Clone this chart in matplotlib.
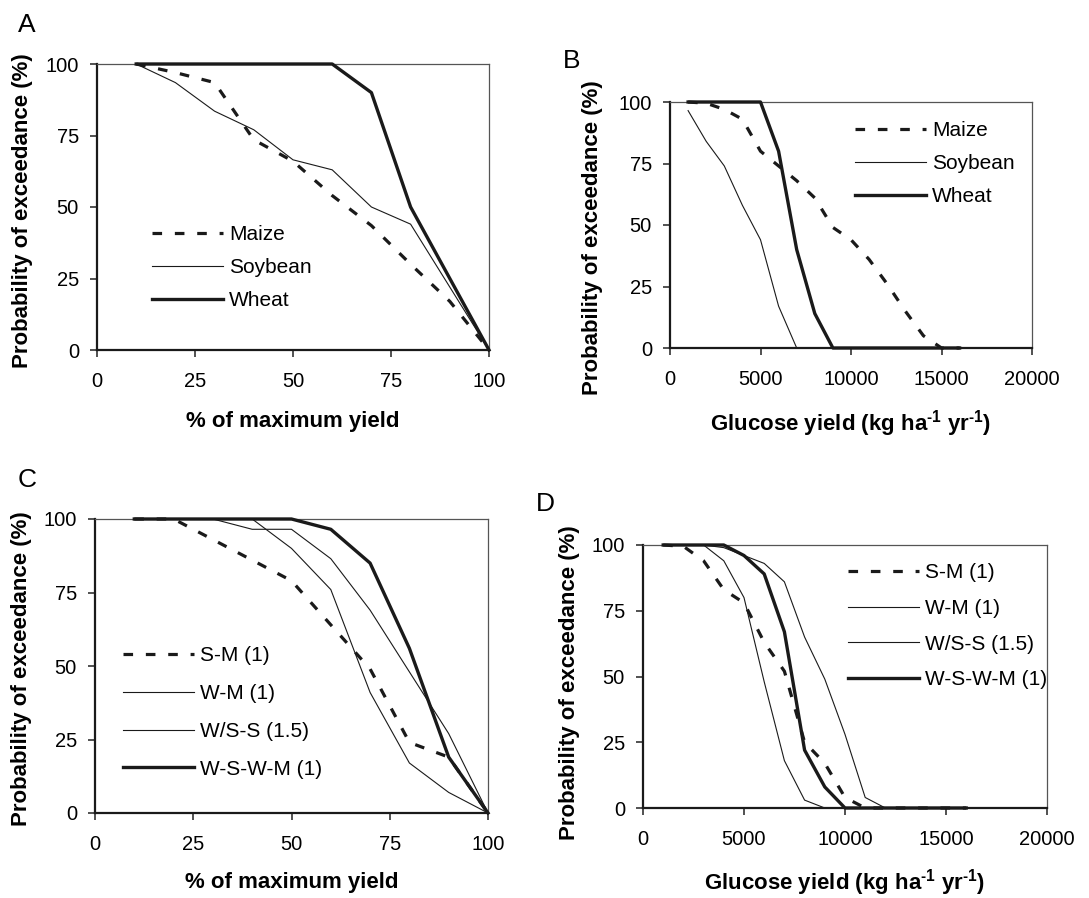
import matplotlib
matplotlib.use('Agg')
import matplotlib.pyplot as plt

plt.rcParams['font.family'] = ['Liberation Sans', 'DejaVu Sans']
plt.rcParams['mathtext.default'] = 'regular'
plt.rcParams['font.size'] = 14.5

# --- panel A: exceedance vs % of maximum yield, single crops
pct = [10, 20, 30, 40, 50, 60, 70, 80, 90, 100]
a_maize = [100, 97, 93.5, 73.5, 66, 54, 43.5, 30, 17, 0]
a_soybean = [100, 93.5, 83.5, 77, 66.5, 63, 50, 44, 22, 0]
a_wheat = [100, 100, 100, 100, 100, 100, 90, 50, 25, 0]

# --- panel B: exceedance vs glucose yield, single crops
glu = [1000, 2000, 3000, 4000, 5000, 6000, 7000, 8000,
       9000, 10000, 11000, 12000, 13000, 14000, 15000, 16000]
b_maize = [100, 99.5, 97, 93, 80, 74, 68, 61, 49, 44, 36, 26, 15, 5, 0, 0]
b_soybean = [96.5, 84, 74, 58, 44, 17, 0, 0, 0, 0, 0, 0, 0, 0, 0, 0]
b_wheat = [100, 100, 100, 100, 100, 80, 40, 14, 0, 0, 0, 0, 0, 0, 0, 0]

# --- panel C: exceedance vs % of maximum yield, rotations
c_sm = [100, 100, 93, 86, 79, 64, 49, 24, 19, 0]
c_wm = [100, 100, 100, 96.5, 96.5, 86.5, 69, 48, 27, 0]
c_wss = [100, 100, 100, 100, 90, 76, 41, 17, 7, 0]
c_wswm = [100, 100, 100, 100, 100, 96.5, 85, 56, 19, 0]

# --- panel D: exceedance vs glucose yield, rotations
d_sm = [100, 99.5, 94, 83, 78, 63, 52, 25, 17, 4, 0, 0, 0, 0, 0, 0]
d_wm = [100, 100, 100, 94, 80, 48, 18, 3, 0, 0, 0, 0, 0, 0, 0, 0]
d_wss = [100, 100, 100, 99, 96, 93, 86, 65, 49, 28, 4, 0, 0, 0, 0, 0]
d_wswm = [100, 100, 100, 100, 96, 89, 67, 22, 8, 0, 0, 0, 0, 0, 0, 0]

crop_names = ['Maize', 'Soybean', 'Wheat']
rot_names = ['S-M (1)', 'W-M (1)', 'W/S-S (1.5)', 'W-S-W-M (1)']

ylab = 'Probability of exceedance (%)'
xlab_pct = '% of maximum yield'
xlab_glu = 'Glucose yield (kg ha$^{\u20101}$ yr$^{\u20101}$)'

dashed = dict(color='#1a1a1a', lw=2.3, dashes=(3.0, 4.0))
thin = dict(color='#1a1a1a', lw=0.8)
thick = dict(color='#1a1a1a', lw=2.4)

W, H = 1089, 898
fig = plt.figure(figsize=(W / 100, H / 100), dpi=100)


def add_ax(left, top, right, bottom):
    return fig.add_axes([left / W, 1 - bottom / H, (right - left) / W, (bottom - top) / H])


def style(ax, xmax, xticks, xlabel, ylx, yly, xly):
    ax.set_xlim(0, xmax)
    ax.set_ylim(0, 100)
    ax.set_xticks(xticks)
    ax.set_yticks([0, 25, 50, 75, 100])
    for s in ['left', 'bottom']:
        ax.spines[s].set_linewidth(1.6)
        ax.spines[s].set_color('#1a1a1a')
    for s in ['top', 'right']:
        ax.spines[s].set_linewidth(0.9)
        ax.spines[s].set_color('#555555')
    ax.tick_params(direction='out', length=5, width=1.2, color='#333333',
                   labelsize=14.5, top=False, right=False)
    ax.tick_params(axis='x', pad=11)
    ax.tick_params(axis='y', pad=8)
    ax.set_ylabel(ylab, fontweight='bold', fontsize=16)
    ax.set_xlabel(xlabel, fontweight='bold', fontsize=16)
    ax.yaxis.set_label_coords(ylx, yly)
    ax.xaxis.set_label_coords(0.5, xly)


def legend(ax, x, y, spacing):
    ax.legend(loc='center left', bbox_to_anchor=(x, y), frameon=False,
              handlelength=3.4, handletextpad=0.3, labelspacing=spacing,
              borderpad=0, borderaxespad=0, fontsize=15)


# A
axA = add_ax(97, 64, 489, 350)
axA.plot(pct, a_maize, label=crop_names[0], clip_on=False, zorder=3, **dashed)
axA.plot(pct, a_soybean, label=crop_names[1], clip_on=False, zorder=3, **thin)
axA.plot(pct, a_wheat, label=crop_names[2], clip_on=False, zorder=4, **thick)
style(axA, 100, [0, 25, 50, 75, 100], xlab_pct, -0.163, 0.486, -0.215)
legend(axA, 0.140, 0.289, 0.67)

# B
axB = add_ax(670, 102, 1032, 348)
axB.plot(glu, b_maize, label=crop_names[0], clip_on=False, zorder=3, **dashed)
axB.plot(glu, b_soybean, label=crop_names[1], clip_on=False, zorder=3, **thin)
axB.plot(glu, b_wheat, label=crop_names[2], clip_on=False, zorder=4, **thick)
style(axB, 20000, [0, 5000, 10000, 15000, 20000], xlab_glu, -0.185, 0.447, -0.245)
legend(axB, 0.511, 0.749, 0.67)

# C
axC = add_ax(95, 519, 488, 813)
axC.plot(pct, c_sm, label=rot_names[0], clip_on=False, zorder=3, **dashed)
axC.plot(pct, c_wm, label=rot_names[1], clip_on=False, zorder=3, **thin)
axC.plot(pct, c_wss, label=rot_names[2], clip_on=False, zorder=3, **thin)
axC.plot(pct, c_wswm, label=rot_names[3], clip_on=False, zorder=4, **thick)
style(axC, 100, [0, 25, 50, 75, 100], xlab_pct, -0.160, 0.49, -0.20)
legend(axC, 0.072, 0.342, 0.9)

# D
axD = add_ax(643, 545, 1047, 808)
axD.plot(glu, d_sm, label=rot_names[0], clip_on=False, zorder=3, **dashed)
axD.plot(glu, d_wm, label=rot_names[1], clip_on=False, zorder=3, **thin)
axD.plot(glu, d_wss, label=rot_names[2], clip_on=False, zorder=3, **thin)
axD.plot(glu, d_wswm, label=rot_names[3], clip_on=False, zorder=4, **thick)
style(axD, 20000, [0, 5000, 10000, 15000, 20000], xlab_glu, -0.156, 0.475, -0.225)
legend(axD, 0.508, 0.691, 0.8)

# panel letters
for letter, x, y in [('A', 18, 32), ('B', 563, 68), ('C', 18, 487), ('D', 536, 511)]:
    fig.text(x / W, 1 - y / H, letter, fontsize=19, ha='left', va='baseline')

fig.savefig('out.png', dpi=100)
